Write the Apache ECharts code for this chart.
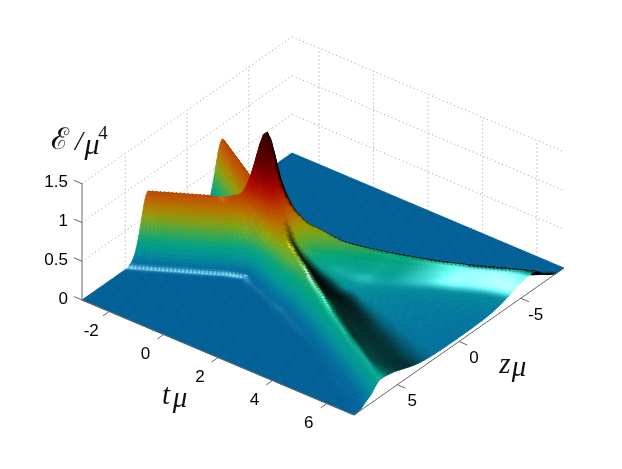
<!DOCTYPE html>
<html>
<head>
<meta charset="utf-8">
<style>html,body{margin:0;padding:0;background:#fff}#chart{width:622px;height:469px}</style>
<script src="https://cdn.jsdelivr.net/npm/echarts@6/dist/echarts.min.js"></script>
</head>
<body>
<div id="chart"></div>
<script>
// tick labels
var tTicks = [-2, 0, 2, 4, 6];
var zTicks = [5, 0, -5];
var energyTicks = [0, 0.5, 1, 1.5];

var tRows = [-3, -2.5, -2, -1.5, -1, -0.5, 0, 0.5, 1, 1.5, 2, 2.5, 3, 3.5, 4, 4.5, 5, 5.5, 6, 6.5, 7];
var dStep = 0.25;

// energy density per time row, one value every dStep, zeros after the last value
var e_m30 = [0,0,0,0,.001,.005,.02,.061,.155,.32,.536,.73,.81,.73,.536,.32,.155,.061,.02,.005,.001];
var e_m25 = [0,0,.001,.005,.02,.061,.155,.32,.536,.73,.81,.73,.536,.32,.155,.061,.02,.005,.001];
var e_m20 = [.002,.005,.021,.061,.155,.32,.536,.73,.81,.73,.536,.32,.155,.061,.02,.005,.001];
var e_m15 = [.04,.066,.156,.32,.536,.73,.81,.73,.536,.32,.155,.061,.02,.005,.001];
var e_m10 = [.31,.381,.556,.735,.811,.73,.536,.32,.155,.061,.02,.005,.001];
var e_m05 = [1.072,1.05,.965,.791,.556,.325,.156,.061,.02,.005,.001];
var e_00 = [1.68,1.51,1.07,.64,.31,.122,.04,.01,.002];
var e_05 = [1,.98,.9,.72,.5,.29,.14,.06,.02,.005];
var e_10 = [.55,.56,.59,.6,.56,.44,.3,.17,.08,.03,.009,.002];
var e_15 = [.36,.365,.385,.43,.5,.49,.43,.33,.21,.11,.05,.018,.005,.001];
var e_20 = [.24,.245,.262,.295,.345,.405,.415,.37,.29,.19,.1,.045,.016,.005,.001];
var e_25 = [.19,.192,.2,.215,.24,.275,.325,.365,.36,.31,.23,.145,.075,.032,.012,.003];
var e_30 = [.15,.151,.155,.165,.18,.205,.235,.268,.305,.33,.32,.265,.19,.115,.058,.025,.009,.002];
var e_35 = [.12,.121,.125,.134,.148,.168,.192,.218,.243,.267,.288,.3,.29,.24,.17,.1,.05,.02,.007,.002];
var e_40 = [.1,.1,.102,.106,.113,.124,.14,.159,.18,.2,.22,.24,.258,.27,.262,.215,.15,.09,.045,.018,.006,.001];
var e_45 = [.088,.088,.089,.091,.095,.101,.11,.122,.137,.154,.172,.19,.207,.223,.24,.25,.24,.195,.135,.08,.04,.016,.005,.001];
var e_50 = [.078,.078,.079,.08,.082,.086,.091,.098,.108,.12,.134,.15,.166,.182,.198,.213,.23,.24,.225,.18,.125,.072,.035,.014,.004,.001];
var e_55 = [.07,.07,.07,.071,.073,.075,.078,.083,.09,.099,.11,.123,.137,.152,.168,.183,.197,.21,.224,.23,.215,.17,.115,.065,.03,.012,.004,.001];
var e_60 = [.063,.063,.063,.064,.065,.067,.069,.072,.077,.083,.091,.1,.112,.125,.139,.154,.169,.183,.197,.209,.222,.228,.21,.165,.11,.06,.028,.011,.003,.001];
var e_65 = [.058,.058,.058,.059,.06,.061,.063,.065,.068,.072,.078,.085,.094,.104,.116,.13,.145,.16,.175,.189,.202,.213,.222,.225,.205,.16,.105,.055,.025,.009,.002];
var e_70 = [.054,.054,.054,.055,.055,.056,.058,.06,.062,.065,.07,.075,.082,.091,.102,.115,.13,.145,.16,.175,.19,.2,.21,.218,.222,.22,.195,.15,.105,.08,.05,.02,.005];
var energyRows = [e_m30,e_m25,e_m20,e_m15,e_m10,e_m05,e_00,e_05,e_10,e_15,e_20,e_25,e_30,e_35,e_40,e_45,e_50,e_55,e_60,e_65,e_70];

// height -> colour of the surface
var colourHeights = [0, .06, .16, .3, .42, .55, .68, .82, 1.05, 1.35, 1.7];
var colourStops = [[0,95,150],[0,115,158],[0,150,150],[0,165,120],[90,172,60],[155,160,0],[188,115,0],[190,70,0],[170,0,0],[90,0,0],[55,0,0]];

var tMin = -3, tMax = 7, zMin = -8.5, zMax = 8.5, collisionZ = 0.15, meshStep = 0.1;

// orthographic view of the box, in page pixels
function project(t, z, e) {
  var a = (t - tMin) / (tMax - tMin), b = (zMax - z) / (zMax - zMin);
  return [82 + 272 * a + 210 * b, 300 + 115 * a - 147 * b - 77.5 * e];
}

function spline(p0, p1, p2, p3, f) {
  return p1 + 0.5 * f * (p2 - p0 + f * (2 * p0 - 5 * p1 + 4 * p2 - p3 + f * (3 * (p1 - p2) + p3 - p0)));
}
function rowValue(row, k) {
  if (k < 0) k = -k;
  return k < row.length ? row[k] : 0;
}
function rowAt(row, d) {
  var x = Math.abs(d) / dStep, k = Math.floor(x);
  return spline(rowValue(row, k - 1), rowValue(row, k), rowValue(row, k + 1), rowValue(row, k + 2), x - k);
}
function smooth(x) {
  x = Math.max(0, Math.min(1, x));
  return x * x * (3 - 2 * x);
}
// table lookup between time rows, following the moving fronts so they stay straight
function energyAt(t, z) {
  var d = Math.abs(z - collisionZ);
  t = Math.max(tMin, Math.min(tMax, t));
  var u = Math.min((t - tMin) / 0.5, tRows.length - 1.0001);
  var i = Math.floor(u), side = tRows[i] < 0 ? -1 : 1;
  var at = Math.abs(t), speed = 1;
  if (at < 1) speed = smooth((d - 0.3) / 0.6);
  else if (t > 0 && t < 2) speed = 0.8;
  var p = [], same = [];
  for (var n = -1; n <= 2; n++) {
    var j = Math.max(0, Math.min(tRows.length - 1, i + n));
    same.push(i + n === j && (side < 0 ? tRows[j] <= 0 : tRows[j] >= 0));
    p.push(rowAt(energyRows[j], d + side * speed * (tRows[j] - t)));
  }
  // rows behind the collision only count close to the collision plane
  if (!same[0]) p[0] = speed * (2 * p[1] - p[2]) + (1 - speed) * p[0];
  if (!same[3]) p[3] = speed * (2 * p[2] - p[1]) + (1 - speed) * p[3];
  return Math.max(0, spline(p[0], p[1], p[2], p[3], u - i));
}

function baseColour(e) {
  var n = colourHeights.length;
  if (e >= colourHeights[n - 1]) return colourStops[n - 1];
  for (var i = 1; i < n; i++) {
    if (e <= colourHeights[i]) {
      var f = (e - colourHeights[i - 1]) / (colourHeights[i] - colourHeights[i - 1]);
      var c0 = colourStops[i - 1], c1 = colourStops[i];
      return [c0[0] + (c1[0] - c0[0]) * f, c0[1] + (c1[1] - c0[1]) * f, c0[2] + (c1[2] - c0[2]) * f];
    }
  }
}

// fake of the matlab light: dark when facing -z, a narrow highlight on gentle +z slopes
function litColour(t, z, e) {
  var h = 0.15;
  var sz = (energyAt(t, z + h) - energyAt(t, z - h)) / (2 * h);
  var st = (energyAt(t + h, z) - energyAt(t - h, z)) / (2 * h);
  // before the collision the far sides stay lit
  var soft = 0.04 + 0.8 * smooth((-0.3 - t) / 0.5) + 0.08 * smooth((2.6 - t) / 1.5);
  var q0 = Math.max(0, sz) / soft;
  var shade = 1 / (1 + q0 * q0);
  var q1 = (sz + 0.06) / (0.03 + 0.015 * smooth((e - 0.05) / 0.1)), q2 = (st + 0.03) / 0.07;
  var spec = 0.72 * Math.exp(-(q1 * q1 + q2 * q2)) * smooth(-sz / 0.03);
  var late = smooth((t - 2.5) / 1);
  var keep = smooth((e - 0.12) / 0.05) + 0.2 * smooth((0.06 - e) / 0.03);
  spec *= 1 - late + late * keep;
  // the foot of the front only shines before the collision
  spec *= 1 - 0.8 * smooth(t / 0.5) * smooth((0.12 - e) / 0.05);
  if (z < collisionZ) spec *= t < 0 ? 1 : 0.25 + 0.75 * smooth((t - 3.5) / 2);
  else if (t > 3) spec *= 0.3 + 0.7 * smooth((4.2 - t) / 1.2);
  var c = baseColour(e);
  return 'rgb(' + [0, 1, 2].map(function (i) {
    return Math.round(Math.min(255, c[i] * shade + 255 * spec));
  }).join(',') + ')';
}

var surfaceCells = [], meshEnergy = [], meshColour = [];
var nt = Math.round((tMax - tMin) / meshStep), nz = Math.round((zMax - zMin) / meshStep);
for (var ti = 0; ti <= nt; ti++) {
  meshEnergy.push([]);
  meshColour.push([]);
  for (var zi = 0; zi <= nz; zi++) {
    var vt = tMin + ti * meshStep, vz = zMin + zi * meshStep, ve = energyAt(vt, vz);
    meshEnergy[ti].push(ve);
    meshColour[ti].push(litColour(vt, vz, ve));
    if (ti < nt && zi < nz) surfaceCells.push([ti, zi]);
  }
}

// wall grid, box edges and ticks as [t0,z0,e0,t1,z1,e1]
var wallLines = [];
energyTicks.slice(1).forEach(function (e) {
  wallLines.push([tMin, zMax, e, tMin, zMin, e]);
  wallLines.push([tMin, zMin, e, tMax, zMin, e]);
});
zTicks.forEach(function (z) { wallLines.push([tMin, z, 0, tMin, z, 1.5]); });
tTicks.forEach(function (t) { wallLines.push([t, zMin, 0, t, zMin, 1.5]); });

var axisLines = [[tMin, zMax, 0, tMax, zMax, 0], [tMax, zMax, 0, tMax, zMin, 0], [tMin, zMax, 0, tMin, zMax, 1.5]];
tTicks.forEach(function (t) { axisLines.push([t, zMax, 0, t, zMax + 0.5, 0]); });
zTicks.forEach(function (z) { axisLines.push([tMax, z, 0, tMax + 0.3, z, 0]); });
energyTicks.forEach(function (e) { axisLines.push([tMin, zMax, e, tMin - 0.3, zMax, e]); });

function lineRender(style) {
  return function (params, api) {
    var v = style === 'wall' ? wallLines[params.dataIndex] : axisLines[params.dataIndex];
    var c0 = api.coord(project(v[0], v[1], v[2])), c1 = api.coord(project(v[3], v[4], v[5]));
    return {
      type: 'line', silent: true,
      shape: { x1: c0[0], y1: c0[1], x2: c1[0], y2: c1[1] },
      style: style === 'wall'
        ? { stroke: '#9a9a9a', lineWidth: 1, lineDash: [1, 3] }
        : { stroke: '#666', lineWidth: 1 }
    };
  };
}

var tickLabels = [];
tTicks.forEach(function (t) {
  var p = project(t, zMax, 0);
  tickLabels.push([p[0] - 18, p[1] + 20, String(t), 'center']);
});
zTicks.forEach(function (z) {
  var p = project(tMax, z, 0);
  tickLabels.push([p[0] + 15, p[1] + 17, String(z), 'center']);
});
energyTicks.forEach(function (e) {
  var p = project(tMin, zMax, e);
  tickLabels.push([p[0] - 14, p[1] - 1, String(e), 'right']);
});

var mathLabels = [
  [60, 141, 'ℰ', 30, 'DejaVu Serif', 'normal'],
  [79, 143, '/', 28, 'Liberation Serif', 'italic'],
  [92, 146, 'μ', 30, 'Liberation Serif', 'italic'],
  [103, 134, '4', 19, 'Liberation Serif', 'normal'],
  [166, 396, 't', 29, 'Liberation Serif', 'italic'],
  [180, 399, 'μ', 29, 'Liberation Serif', 'italic'],
  [505, 365, 'z', 29, 'Liberation Serif', 'italic'],
  [519, 368, 'μ', 29, 'Liberation Serif', 'italic']
];

var chart = echarts.init(document.getElementById('chart'));
chart.setOption({
  animation: false,
  backgroundColor: '#fff',
  grid: { left: 0, right: 0, top: 0, bottom: 0 },
  xAxis: { type: 'value', min: 0, max: 622, show: false },
  yAxis: { type: 'value', min: 0, max: 469, inverse: true, show: false },
  series: [
    { type: 'custom', coordinateSystem: 'cartesian2d', silent: true, data: wallLines, renderItem: lineRender('wall'), z: 1 },
    {
      type: 'custom', coordinateSystem: 'cartesian2d', silent: true, progressive: 0, data: surfaceCells, z: 2,
      renderItem: function (params, api) {
        var cell = surfaceCells[params.dataIndex];
        // corners of the cell, the lowest and the highest one carry the gradient
        var ids = [[0, 0], [1, 0], [1, 1], [0, 1]], low = 0, high = 0, pts = [];
        ids.forEach(function (q, k) {
          var i = cell[0] + q[0], j = cell[1] + q[1];
          pts.push(api.coord(project(tMin + i * meshStep, zMin + j * meshStep, meshEnergy[i][j])));
          if (meshEnergy[i][j] < meshEnergy[cell[0] + ids[low][0]][cell[1] + ids[low][1]]) low = k;
          if (meshEnergy[i][j] > meshEnergy[cell[0] + ids[high][0]][cell[1] + ids[high][1]]) high = k;
        });
        var cLow = meshColour[cell[0] + ids[low][0]][cell[1] + ids[low][1]];
        var cHigh = meshColour[cell[0] + ids[high][0]][cell[1] + ids[high][1]];
        var fill = cLow;
        if (low !== high && cLow !== cHigh) {
          fill = {
            type: 'linear', global: true,
            x: pts[low][0], y: pts[low][1], x2: pts[high][0], y2: pts[high][1],
            colorStops: [{ offset: 0, color: cLow }, { offset: 1, color: cHigh }]
          };
        }
        return {
          type: 'polygon', silent: true,
          shape: { points: pts },
          style: { fill: fill, stroke: fill, lineWidth: 0.7 }
        };
      }
    },
    { type: 'custom', coordinateSystem: 'cartesian2d', silent: true, data: axisLines, renderItem: lineRender('axis'), z: 3 },
    {
      type: 'custom', coordinateSystem: 'cartesian2d', silent: true, data: tickLabels, z: 4,
      renderItem: function (params, api) {
        var v = tickLabels[params.dataIndex], c = api.coord([v[0], v[1]]);
        return {
          type: 'text', silent: true, x: c[0], y: c[1],
          style: { text: v[2], fill: '#000', font: '17px "Liberation Sans"', textAlign: v[3], textVerticalAlign: 'middle' }
        };
      }
    },
    {
      type: 'custom', coordinateSystem: 'cartesian2d', silent: true, data: mathLabels, z: 4,
      renderItem: function (params, api) {
        var v = mathLabels[params.dataIndex], c = api.coord([v[0], v[1]]);
        return {
          type: 'text', silent: true, x: c[0], y: c[1],
          style: { text: v[2], fill: '#111', font: v[5] + ' ' + v[3] + 'px "' + v[4] + '"', textAlign: 'center', textVerticalAlign: 'middle' }
        };
      }
    }
  ]
});
</script>
</body>
</html>
